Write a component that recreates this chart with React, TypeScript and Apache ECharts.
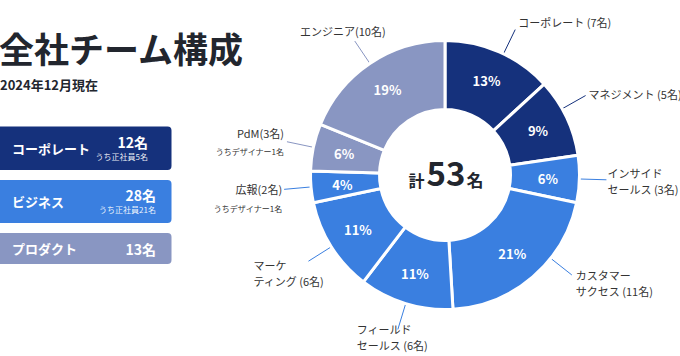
import React, { useEffect, useRef } from 'react';
import * as echarts from 'echarts';

// ---------- data ----------
const titleText = '全社チーム構成';
const subtitleText = '2024年12月現在';

const divisionNames = ['コーポレート', 'ビジネス', 'プロダクト'];
const divisionCounts = [12, 28, 13];
const divisionNotes = ['うち正社員5名', 'うち正社員21名', ''];

const teamNames = [
  'コーポレート ',
  'マネジメント ',
  'インサイド\nセールス ',
  'カスタマー\nサクセス ',
  'フィールド\nセールス ',
  'マーケ\nティング ',
  '広報',
  'PdM',
  'エンジニア',
];
const teamCounts = [7, 5, 3, 11, 6, 6, 2, 3, 10];
const teamDivision = [0, 0, 1, 1, 1, 1, 1, 2, 2];
const teamNotes = ['', '', '', '', '', '', 'うちデザイナー1名', 'うちデザイナー1名', ''];

// ---------- styles / layout ----------
const FONT = "'Noto Sans CJK JP', 'Noto Sans', sans-serif";
const DIVISION_COLORS = ['#15317c', '#3a7fe0', '#8996c2'];
const TEXT_DARK = '#333333';
const TITLE_COLOR = '#22262e';

const CX = 445;
const CY = 175;
const R_INNER = 65.5;
const R_OUTER = 134.5;

// label placement relative to the end of each leader line (rot = rotate leader about centre, degrees)
type Off = { dx: number; dy: number; align: string; va: string; rot?: number };
const LABEL_OFFSETS: Off[] = [
  { dx: 3, dy: -8, align: 'left', va: 'middle', rot: 2 },
  { dx: 3, dy: -2, align: 'left', va: 'middle', rot: -4 },
  { dx: 1, dy: 1, align: 'left', va: 'middle' },
  { dx: 4, dy: 8, align: 'left', va: 'middle', rot: -11 },
  { dx: -41, dy: -8, align: 'left', va: 'top' },
  { dx: -55, dy: -4, align: 'left', va: 'top' },
  { dx: -2, dy: -8, align: 'right', va: 'top' },
  { dx: -3, dy: -17, align: 'right', va: 'top' },
  { dx: -12, dy: -2, align: 'center', va: 'bottom' },
];

const BOX_TOPS = [126.5, 180, 233];
const BOX_HEIGHTS = [43.5, 43, 31];
const BOX_LEFT = -6;
const BOX_RIGHT = 171.5;
const COUNT_RIGHT = [148, 156, 156];

function rotatePoint(pt: number[], deg: number) {
  const a = (deg * Math.PI) / 180;
  const dx = pt[0] - CX;
  const dy = pt[1] - CY;
  return [CX + dx * Math.cos(a) - dy * Math.sin(a), CY + dx * Math.sin(a) + dy * Math.cos(a)];
}

function buildOption() {
  const total = teamCounts.reduce((a, b) => a + b, 0);

  const pieData = teamNames.map((n, i) => ({
    name: n,
    value: teamCounts[i],
    itemStyle: { color: DIVISION_COLORS[teamDivision[i]] },
  }));

  const boxes: any[] = [];
  divisionNames.forEach((name, i) => {
    const top = BOX_TOPS[i];
    const h = BOX_HEIGHTS[i];
    const mid = top + h / 2;
    boxes.push({
      type: 'rect',
      shape: { x: BOX_LEFT, y: top, width: BOX_RIGHT - BOX_LEFT, height: h, r: 4 },
      style: { fill: DIVISION_COLORS[i] },
    });
    boxes.push({
      type: 'text',
      x: 12,
      y: mid,
      style: {
        text: name,
        fill: '#ffffff',
        font: `bold 13px ${FONT}`,
        verticalAlign: 'middle',
        align: 'left',
      },
    });
    const note = divisionNotes[i];
    boxes.push({
      type: 'text',
      x: COUNT_RIGHT[i],
      y: note ? mid - 6.5 : mid,
      style: {
        text: `${divisionCounts[i]}名`,
        fill: '#ffffff',
        font: `bold 14px ${FONT}`,
        verticalAlign: 'middle',
        align: 'right',
      },
    });
    if (note) {
      boxes.push({
        type: 'text',
        x: COUNT_RIGHT[i],
        y: mid + 8,
        style: {
          text: note,
          fill: 'rgba(255,255,255,0.92)',
          font: `8px ${FONT}`,
          verticalAlign: 'middle',
          align: 'right',
        },
      });
    }
  });

  return {
    animation: false,
    backgroundColor: '#ffffff',
    textStyle: { fontFamily: FONT },
    graphic: [
      {
        type: 'text',
        x: -1,
        y: 47,
        style: {
          text: titleText,
          fill: TITLE_COLOR,
          font: `bold 35px ${FONT}`,
          verticalAlign: 'middle',
        },
      },
      {
        type: 'text',
        x: 0,
        y: 84,
        style: {
          text: subtitleText,
          fill: TITLE_COLOR,
          font: `bold 13px ${FONT}`,
          verticalAlign: 'middle',
        },
      },
      ...boxes,
      {
        type: 'text',
        x: CX + 1,
        y: CY - 5,
        z: 100,
        style: {
          text: `{s|計}{b|${total}}{n|名}`,
          align: 'center',
          verticalAlign: 'middle',
          fill: TITLE_COLOR,
          rich: {
            s: { fontSize: 16, fontWeight: 'bold', fontFamily: FONT, fill: TITLE_COLOR, verticalAlign: 'bottom', lineHeight: 36, padding: [0, 2, 0, 0] },
            b: { fontSize: 33, fontWeight: 'bold', fontFamily: FONT, fill: TITLE_COLOR, verticalAlign: 'bottom', lineHeight: 36 },
            n: { fontSize: 17, fontWeight: 'bold', fontFamily: FONT, fill: TITLE_COLOR, verticalAlign: 'bottom', lineHeight: 36, padding: [0, 0, 0, 1] },
          },
        },
      },
    ],
    series: [
      {
        type: 'pie',
        left: 0,
        top: 0,
        width: 900,
        height: 356,
        center: [CX, CY],
        radius: [R_INNER, R_OUTER],
        startAngle: 90,
        clockwise: true,
        avoidLabelOverlap: false,
        data: pieData,
        itemStyle: { borderColor: '#ffffff', borderWidth: 3 },
        label: {
          show: true,
          position: 'outside',
          fontFamily: FONT,
          color: TEXT_DARK,
          formatter: (p: any) => {
            const i = p.dataIndex;
            const main = `{a|${teamNames[i]}(${teamCounts[i]}名)}`;
            return teamNotes[i] ? `${main}\n{b|${teamNotes[i]}}` : main;
          },
          rich: {
            a: { fontSize: 11, lineHeight: 16, color: TEXT_DARK, fontFamily: FONT },
            b: { fontSize: 8, lineHeight: 22, color: TEXT_DARK, fontFamily: FONT },
          },
        },
        labelLine: { show: true, length: 27, length2: 0, lineStyle: { width: 1 } },
        labelLayout: (p: any) => {
          const raw = p.labelLinePoints;
          if (!raw || !raw.length) return {};
          const o = LABEL_OFFSETS[p.dataIndex];
          const pts = raw.map((q: number[]) => (o.rot ? rotatePoint(q, o.rot) : [q[0], q[1]]));
          const end = pts[pts.length - 1];
          return {
            x: end[0] + o.dx,
            y: end[1] + o.dy,
            align: o.align,
            verticalAlign: o.va,
            labelLinePoints: pts,
          };
        },
        emphasis: { disabled: true },
      },
      {
        type: 'pie',
        left: 0,
        top: 0,
        width: 900,
        height: 356,
        center: [CX, CY],
        radius: [R_INNER, R_OUTER],
        startAngle: 90,
        clockwise: true,
        silent: true,
        data: pieData.map((d) => ({ name: d.name, value: d.value })),
        itemStyle: { color: 'transparent', borderWidth: 0 },
        label: {
          show: true,
          position: 'inside',
          color: '#ffffff',
          fontSize: 13,
          fontWeight: 'bold',
          fontFamily: FONT,
          formatter: (p: any) => `${Math.round((p.value / total) * 100)}%`,
        },
        labelLine: { show: false },
        emphasis: { disabled: true },
      },
    ],
  };
}

export default function App() {
  const ref = useRef<HTMLDivElement>(null);
  useEffect(() => {
    if (!ref.current) return;
    const chart = echarts.init(ref.current, undefined, { renderer: 'svg' });
    chart.setOption(buildOption() as any);
    return () => chart.dispose();
  }, []);
  return (
    <div
      ref={ref}
      style={{ position: 'fixed', left: 0, top: 0, width: 680, height: 356, background: '#fff' }}
    />
  );
}
